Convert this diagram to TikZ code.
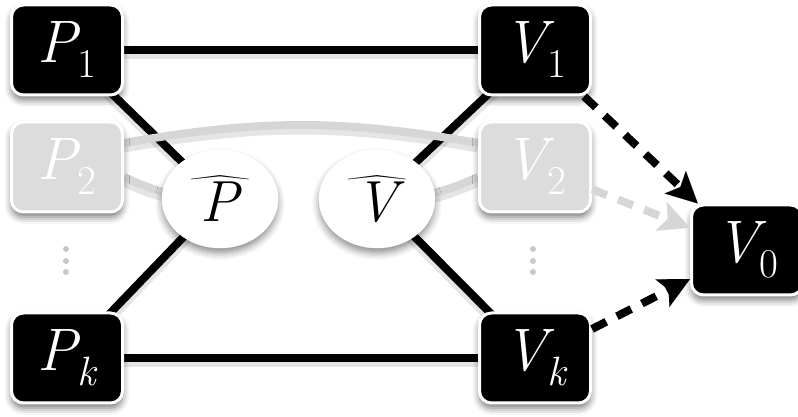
\documentclass[tikz,border=0pt]{standalone}
\usepackage{graphicx}
\usepackage{fontspec}
\usetikzlibrary{shadows.blur,backgrounds,arrows.meta,shapes.geometric}
\definecolor{boxgray}{RGB}{220,220,220}
\definecolor{linegray}{RGB}{214,214,214}
\definecolor{dotgray}{RGB}{200,200,200}
\newcommand{\lbl}[2]{\itshape #1\raisebox{-0.25em}{\fontsize{41}{41}\selectfont #2}}
\newcommand{\hatlbl}[1]{\scalebox{4}[2.2]{$\widehat{\kern15pt}$}\\[-0.5em]\itshape #1}
\tikzset{
  box/.style={rectangle, rounded corners=12pt, minimum width=111pt, minimum height=90pt,
    draw=white, line width=3pt, fill=black, text=white, inner sep=0pt,
    font=\fontsize{60}{60}\selectfont,
    blur shadow={shadow xshift=0pt, shadow yshift=-5pt, shadow blur radius=7pt, shadow opacity=55}},
  graybox/.style={box, fill=boxgray},
  hatnode/.style={ellipse, minimum width=116pt, minimum height=98pt, fill=white, draw=white,
    inner sep=0pt, align=center, font=\fontsize{58}{58}\selectfont,
    blur shadow={shadow xshift=0pt, shadow yshift=-5pt, shadow blur radius=7pt, shadow opacity=45}},
  dotnode/.style={circle, fill=dotgray, inner sep=0pt, minimum size=6pt},
  lshadow/.style={preaction={draw=black, opacity=0.10, line width=11pt, transform canvas={yshift=-4pt}}},
  link/.style={line width=8pt, black, lshadow},
  glink/.style={line width=8pt, linegray, lshadow},
  darrow/.style={line width=8pt, dash pattern=on 16pt off 12pt,
    -{Stealth[length=31pt, width=31pt, inset=7pt, line width=0.1pt]}},
}
\begin{document}
\begin{tikzpicture}[x=1pt, y=1pt]
  \useasboundingbox (0,0) rectangle (798,417);
  % nodes
  \node[box] (P1) at (67,367) {\lbl{P}{\upshape 1}};
  \node[graybox] (P2) at (67,250) {\lbl{P}{\upshape 2}};
  \node[box] (Pk) at (67,59) {\lbl{P}{k}};
  \node[box] (V1) at (535,367) {\lbl{V}{\upshape 1}};
  \node[graybox] (V2) at (535,250) {\lbl{V}{\upshape 2}};
  \node[box] (Vk) at (535,59) {\lbl{V}{k}};
  \node[box] (V0) at (747,167) {\lbl{V}{\upshape 0}};
  \node[hatnode] (Ph) at (220,218) {\hatlbl{P}};
  \node[hatnode] (Vh) at (377,218) {\hatlbl{V}};
  % vertical dots
  \node[dotnode] (dl1) at (66,168) {};
  \node[dotnode] (dl2) at (66,156) {};
  \node[dotnode] (dl3) at (66,145) {};
  \node[dotnode] (dr1) at (533,168) {};
  \node[dotnode] (dr2) at (533,156) {};
  \node[dotnode] (dr3) at (533,145) {};
  % connectors behind nodes
  \begin{scope}[on background layer]
    \draw[link] (P1.center) -- (V1.center);
    \draw[link] (Pk.center) -- (Vk.center);
    \draw[link] (P1.center) -- (Ph.center);
    \draw[link] (Pk.center) -- (Ph.center);
    \draw[link] (V1.center) -- (Vh.center);
    \draw[link] (Vk.center) -- (Vh.center);
    \draw[glink] ([yshift=24pt]P2.east) to[bend left=10] ([yshift=24pt]V2.west);
    \draw[glink] ([yshift=-10pt]P2.east) to[bend right=12] (Ph.center);
    \draw[glink] (Vh.center) to[bend right=12] ([yshift=-10pt]V2.west);
  \end{scope}
  % dashed arrows
  \draw[darrow, black] (V1) -- (V0);
  \draw[darrow, linegray] (V2) -- (V0);
  \draw[darrow, black] (Vk) -- (V0);
\end{tikzpicture}
\end{document}
